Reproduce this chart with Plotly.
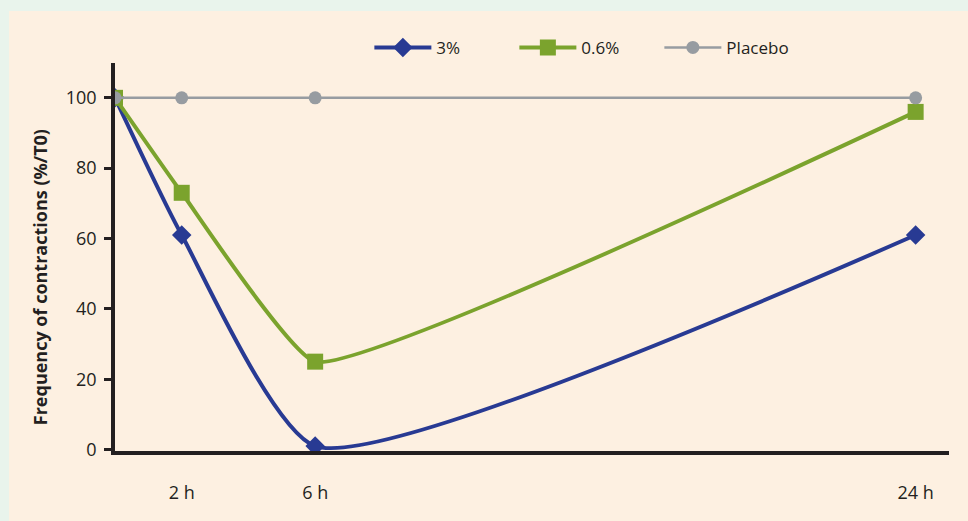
import plotly.graph_objects as go

hours = [0, 2, 6, 24]
series_3pct = [100, 61, 1, 61]
series_06pct = [100, 73, 25, 96]
series_placebo = [100, 100, 100, 100]
x_tick_vals = [2, 6, 24]
x_tick_text = ["2 h", "6 h", "24 h"]
y_tick_vals = [0, 20, 40, 60, 80, 100]
y_title = "Frequency of contractions (%/T0)"

FONT = "Open Sans, DejaVu Sans, sans-serif"
TXT = "#231f20"

fig = go.Figure()
fig.add_trace(go.Scatter(
    x=hours, y=series_3pct, name="3%", mode="lines+markers",
    line=dict(color="#283a93", width=4, shape="spline", smoothing=0.55),
    marker=dict(symbol="diamond", size=15, color="#283a93"),
))
fig.add_trace(go.Scatter(
    x=hours, y=series_06pct, name="0.6%", mode="lines+markers",
    line=dict(color="#7ba32d", width=4, shape="spline", smoothing=0.35),
    marker=dict(symbol="square", size=16, color="#7ba32d"),
))
fig.add_trace(go.Scatter(
    x=hours, y=series_placebo, name="Placebo", mode="lines+markers",
    line=dict(color="#979ca1", width=2.5),
    marker=dict(symbol="circle", size=13, color="#979ca1"),
))

fig.update_layout(
    width=968, height=521,
    margin=dict(l=115, r=19, t=63, b=70, autoexpand=False),
    paper_bgcolor="#e9f4ec",
    plot_bgcolor="rgba(0,0,0,0)",
    font=dict(family=FONT, color=TXT, size=17),
    showlegend=True,
    legend=dict(orientation="h", x=0.305, y=1.039, xanchor="left", yanchor="middle",
                bgcolor="rgba(0,0,0,0)", font=dict(size=17, color=TXT),
                itemwidth=57, entrywidth=73, entrywidthmode="pixels",
                tracegroupgap=0),
    shapes=[dict(type="rect", xref="paper", yref="paper", x0=-0.127, x1=1.05,
                 y0=-0.2, y1=1.134, fillcolor="#fdf0e1", line=dict(width=0),
                 layer="below")],
    annotations=[dict(text="<b>" + y_title + "</b>", xref="paper", yref="paper",
                      x=-0.0899, y=0.448, textangle=-90, showarrow=False,
                      xanchor="center", yanchor="middle",
                      font=dict(size=18, color=TXT))],
    xaxis=dict(range=[0, 25], showgrid=False, zeroline=False,
               showline=True, linecolor=TXT, linewidth=4,
               tickvals=x_tick_vals, ticktext=x_tick_text, ticks="",
               ticklabelstandoff=22, tickfont=dict(size=18, color=TXT)),
    yaxis=dict(range=[-0.4, 109.9], showgrid=False, zeroline=False,
               showline=True, linecolor=TXT, linewidth=3.5,
               tickvals=y_tick_vals, ticks="outside", ticklen=7, tickwidth=3,
               tickcolor=TXT, tickfont=dict(size=18, color=TXT),
               ticklabelstandoff=4),
)

fig.write_html("out.html", config={"displayModeBar": False},
               post_script="document.body.style.margin='0';document.body.style.background='#e9f4ec';")
